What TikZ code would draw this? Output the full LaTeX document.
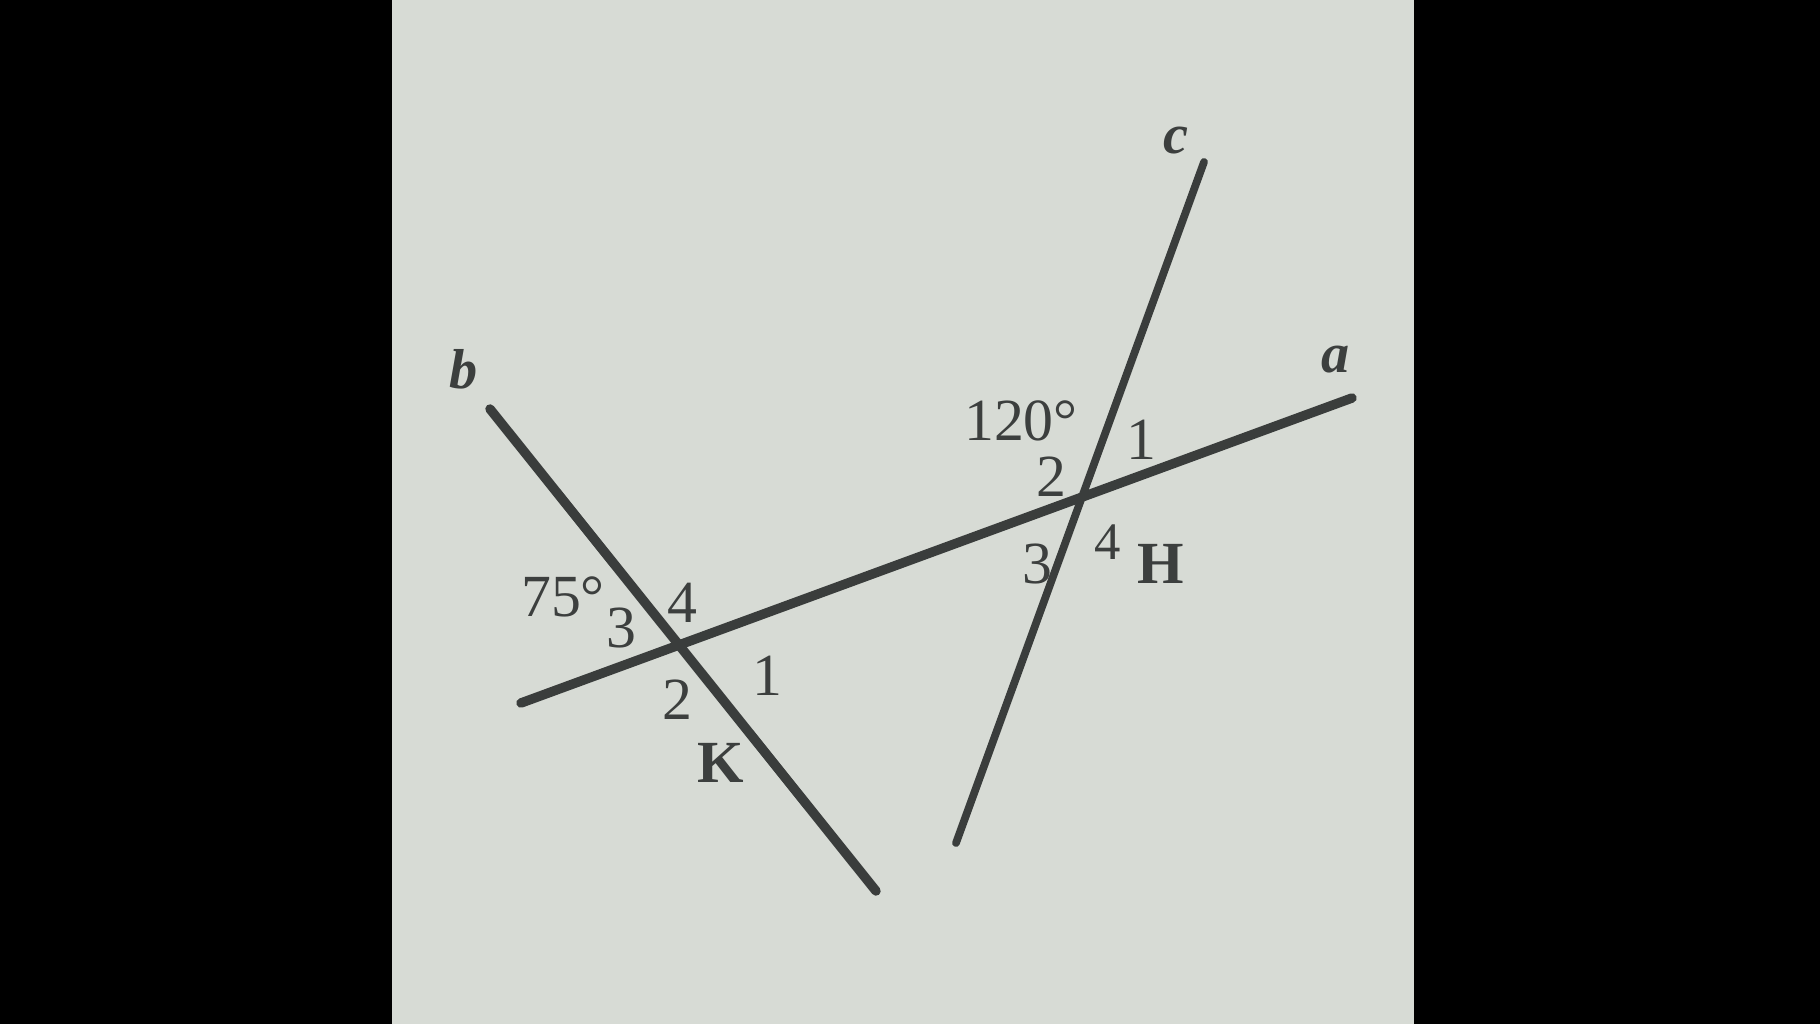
\documentclass[tikz,border=0pt]{standalone}
\usepackage{fontspec}
\setmainfont{Liberation Serif}
\begin{document}
\begin{tikzpicture}[x=0.01cm,y=-0.01cm,
  ln/.style={draw=linec,line width=2.7pt,line cap=round},
  lnthin/.style={draw=linec,line width=2.2pt,line cap=round},
  num/.style={text=txtc,inner sep=0pt,font=\fontsize{17}{20}\selectfont},
  lbl/.style={text=txtc,inner sep=0pt,font=\fontsize{16}{19}\selectfont\itshape\bfseries}]
\definecolor{linec}{HTML}{3A3D3C}
\definecolor{txtc}{HTML}{3C3F3E}
\definecolor{paper}{HTML}{D7DBD5}
\useasboundingbox (0,0) rectangle (1820,1024);
\fill[black] (0,0) rectangle (1820,1024);
\fill[paper] (392,0) rectangle (1414,1024);
% endpoints
\coordinate (a1) at (521,703);
\coordinate (a2) at (1352,398);
\coordinate (b1) at (490,409);
\coordinate (b2) at (876,891);
\coordinate (c1) at (1204,162);
\coordinate (c2) at (956,843);
% lines
\draw[ln] (a1) -- (a2);
\draw[ln] (b1) -- (b2);
\draw[lnthin] (c1) -- (c2);
% line labels
\node[lbl] (la) at (1336,360) {a};
\node[lbl] (lb) at (464,369) {b};
\node[lbl] (lc) at (1176,141) {c};
% H labels
\node[num] (h120) at (1021,421) {120°};
\node[num] (h1) at (1141,440) {1};
\node[num] (h2) at (1051,477) {2};
\node[num] (h3) at (1037,564) {3};
\node[num,font=\fontsize{15}{18}\selectfont] (h4) at (1108,542) {4};
\node[num,font=\fontsize{17}{20}\selectfont\bfseries] (hH) at (1161,564) {H};
% K labels
\node[num] (k75) at (563,597) {75°};
\node[num] (k3) at (621,628) {3};
\node[num] (k4) at (682,603) {4};
\node[num] (k2) at (677,700) {2};
\node[num] (k1) at (767,676) {1};
\node[num,font=\fontsize{17}{20}\selectfont\bfseries] (kK) at (721,763) {K};
\end{tikzpicture}
\end{document}
